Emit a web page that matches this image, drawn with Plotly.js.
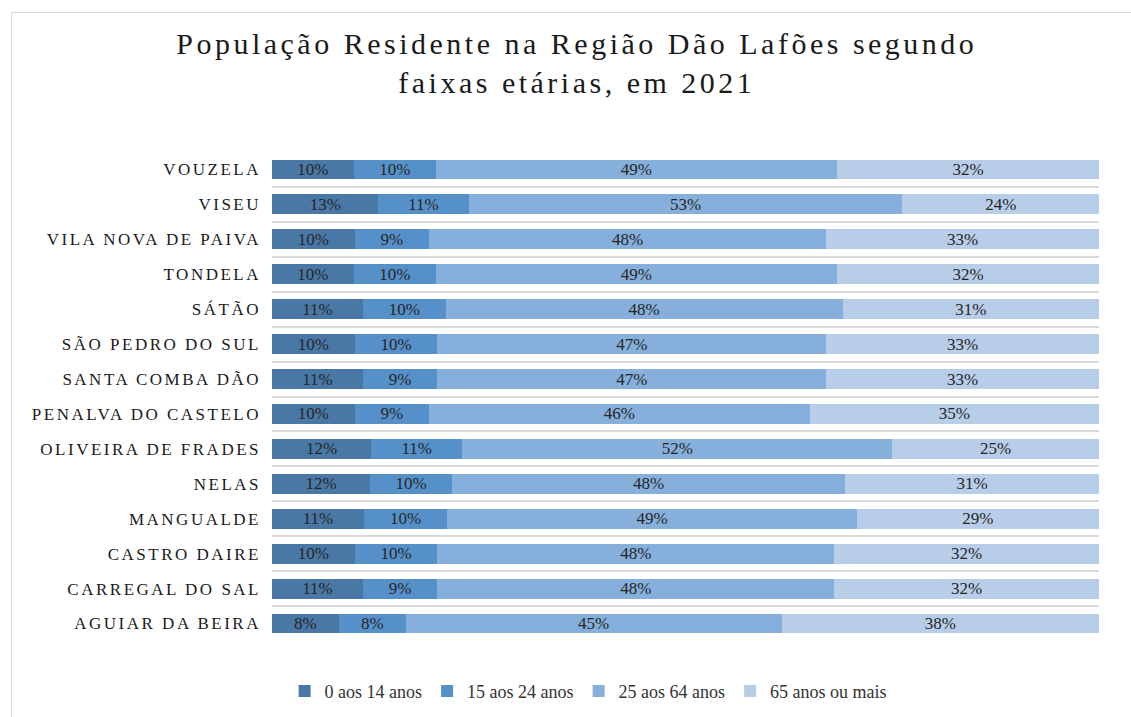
<!DOCTYPE html>
<html>
<head>
<meta charset="utf-8">
<script src="https://cdn.plot.ly/plotly-3.0.1.min.js"></script>
<style>
  html, body { margin: 0; padding: 0; background: #fff; }
  #wrap { position: relative; width: 1131px; height: 717px; }
  #chart { position: absolute; left: 0; top: 0; width: 1131px; height: 717px; }
  #frame { position: absolute; left: 11px; top: 12px; width: 1130px; height: 720px;
           border: 1px solid #d9d9d9; pointer-events: none; box-sizing: border-box; }
  #chart .ytick text { letter-spacing: 2.5px; }
  #chart .gtitle { letter-spacing: 3.5px; }
</style>
</head>
<body>
<div id="wrap">
  <div id="chart"></div>
  <div id="frame"></div>
</div>
<script>
// Categories, top to bottom
const municipios = [
  "VOUZELA", "VISEU", "VILA NOVA DE PAIVA", "TONDELA", "SÁTÃO",
  "SÃO PEDRO DO SUL", "SANTA COMBA DÃO", "PENALVA DO CASTELO",
  "OLIVEIRA DE FRADES", "NELAS", "MANGUALDE", "CASTRO DAIRE",
  "CARREGAL DO SAL", "AGUIAR DA BEIRA"
];
const seriesNames = ["0 aos 14 anos", "15 aos 24 anos", "25 aos 64 anos", "65 anos ou mais"];
const idade0a14  = [10, 13, 10, 10, 11, 10, 11, 10, 12, 12, 11, 10, 11, 8];
const idade15a24 = [10, 11, 9, 10, 10, 10, 9, 9, 11, 10, 10, 10, 9, 8];
const idade25a64 = [49, 53, 48, 49, 48, 47, 47, 46, 52, 48, 49, 48, 48, 45];
const idade65mais = [32, 24, 33, 32, 31, 33, 33, 35, 25, 31, 29, 32, 32, 38];
const colors = ["#4a78a6", "#5690c9", "#86afdc", "#b8cde8"];

const seriesValues = [idade0a14, idade15a24, idade25a64, idade65mais];
const traces = seriesValues.map((vals, i) => ({
  type: "bar",
  orientation: "h",
  name: seriesNames[i],
  y: municipios,
  x: vals,
  text: vals.map(v => v + "%"),
  textposition: "inside",
  insidetextanchor: "middle",
  textangle: 0,
  constraintext: "none",
  textfont: { family: "Liberation Serif, serif", size: 17, color: "#262626" },
  marker: { color: colors[i], line: { width: 0 } },
  hoverinfo: "skip"
}));

const layout = {
  width: 1131,
  height: 717,
  paper_bgcolor: "#ffffff",
  plot_bgcolor: "#ffffff",
  barmode: "stack",
  barnorm: "percent",
  bargap: 0.43,
  margin: { l: 272, r: 32, t: 152, b: 76, pad: 0 },
  title: {
    text: "População Residente na Região Dão Lafões segundo<br>faixas etárias, em 2021",
    font: { family: "Liberation Serif, serif", size: 30, color: "#1a1a1a" },
    x: 0.51, xref: "container", xanchor: "center",
    y: 0.925, yref: "container", yanchor: "top"
  },
  xaxis: {
    range: [0, 100],
    showgrid: false,
    zeroline: false,
    showticklabels: false,
    showline: false,
    fixedrange: true
  },
  yaxis: {
    type: "category",
    autorange: "reversed",
    tickson: "boundaries",
    ticks: "",
    showgrid: true,
    gridcolor: "#d9d9d9",
    gridwidth: 2,
    showline: false,
    zeroline: false,
    ticklabelstandoff: 10,
    tickfont: { family: "Liberation Serif, serif", size: 17, color: "#1a1a1a" },
    fixedrange: true
  },
  showlegend: true,
  legend: {
    orientation: "h",
    xref: "container", yref: "container",
    x: 0.52, xanchor: "center",
    y: 0.01, yanchor: "bottom",
    traceorder: "normal",
    font: { family: "Liberation Serif, serif", size: 18, color: "#333333" },
    itemwidth: 30,
    tracegroupgap: 0
  }
};

Plotly.newPlot("chart", traces, layout, { displayModeBar: false, staticPlot: true });
</script>
</body>
</html>
